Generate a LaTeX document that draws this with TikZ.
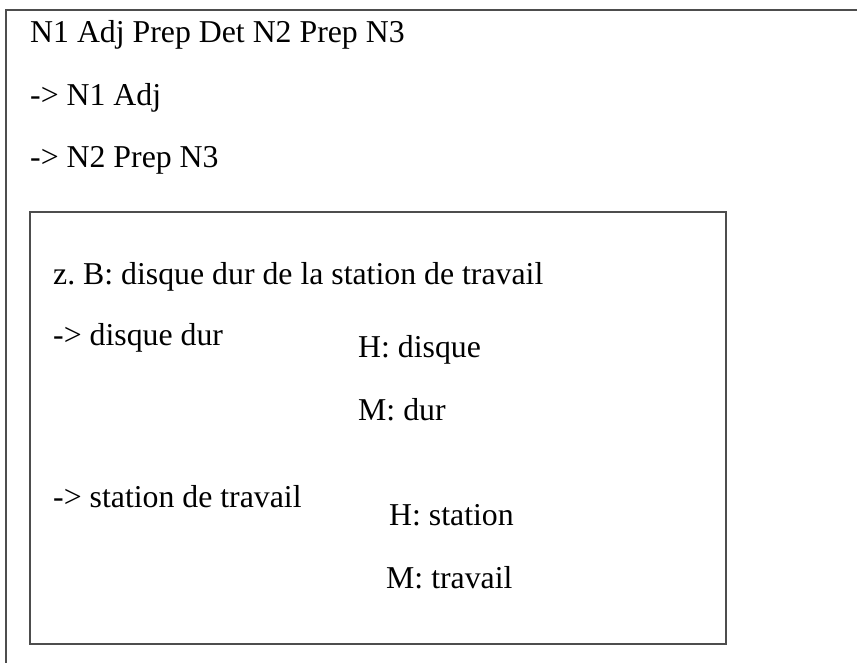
\documentclass[tikz,border=0pt]{standalone}
\usepackage{fontspec}
\setmainfont{Liberation Serif}
\definecolor{boxgray}{HTML}{4D4D4D}
\frenchspacing
\begin{document}
\begin{tikzpicture}[x=1pt,y=-1pt,
  lbl/.style={anchor=base west,inner sep=0pt,font=\fontsize{31.8}{38}\selectfont},
  frame/.style={draw=boxgray,line width=2pt}]
\useasboundingbox (0,0) rectangle (857,663);
\begin{scope}
\clip (0,0) rectangle (857,663);
\draw[frame] (6,10) rectangle (880,690);
\end{scope}
\draw[frame] (30,212.5) rectangle (726,644);
\node[lbl] (t1) at (30,43) {N1 Adj Prep Det N2 Prep N3};
\node[lbl] (t2) at (30,106) {-> N1 Adj};
\node[lbl] (t3) at (30,168) {-> N2 Prep N3};
\node[lbl] (z) at (53,284) {z. B: disque dur de la station de travail};
\node[lbl] (a1) at (53,345) {-> disque dur};
\node[lbl] (h1) at (358,357) {H: disque};
\node[lbl] (m1) at (358,420) {M: dur};
\node[lbl] (a2) at (53,507) {-> station de travail};
\node[lbl] (h2) at (389,525) {H: station};
\node[lbl] (m2) at (386,588) {M: travail};
\end{tikzpicture}
\end{document}
